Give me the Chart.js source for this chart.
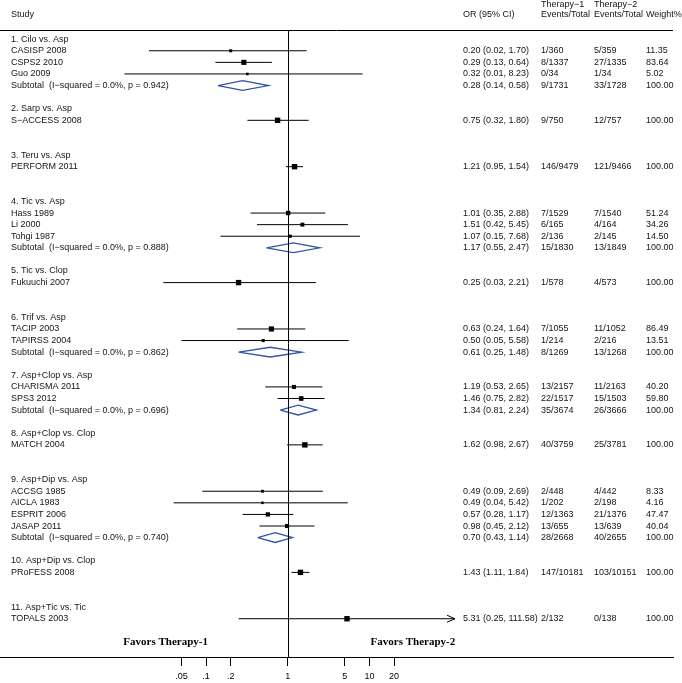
<!DOCTYPE html>
<html>
<head>
<meta charset="utf-8">
<script src="https://cdn.jsdelivr.net/npm/chart.js@4"></script>
<style>
  body { margin: 0; background: #fff; }
  #wrap { width: 682px; height: 683px; }
</style>
</head>
<body>
<div id="wrap"><canvas id="forest"></canvas></div>
<script>
// Groupes de comparaison
const groupes = [
    "1. Cilo vs. Asp", "2. Sarp vs. Asp", "3. Teru vs. Asp", "4. Tic vs. Asp",
    "5. Tic vs. Clop", "6. Trif vs. Asp", "7. Asp+Clop vs. Asp", "8. Asp+Clop vs. Clop",
    "9. Asp+Dip vs. Asp", "10. Asp+Dip vs. Clop", "11. Asp+Tic vs. Tic"
];

// Études
const etudes = [
    "CASISP 2008", "CSPS2 2010", "Guo 2009", "S\u2212ACCESS 2008", "PERFORM 2011",
    "Hass 1989", "Li 2000", "Tohgi 1987", "Fukuuchi 2007", "TACIP 2003", "TAPIRSS 2004",
    "CHARISMA 2011", "SPS3 2012", "MATCH 2004", "ACCSG 1985", "AICLA 1983",
    "ESPRIT 2006", "JASAP 2011", "PRoFESS 2008", "TOPALS 2003"
];
const groupeEtude = [0, 0, 0, 1, 2, 3, 3, 3, 4, 5, 5, 6, 6, 7, 8, 8, 8, 8, 9, 10];
const orEtude = [0.20, 0.29, 0.32, 0.75, 1.21, 1.01, 1.51, 1.07, 0.25, 0.63, 0.50, 1.19, 1.46, 1.62, 0.49, 0.49, 0.57, 0.98, 1.43, 5.31];
const basEtude = [0.02, 0.13, 0.01, 0.32, 0.95, 0.35, 0.42, 0.15, 0.03, 0.24, 0.05, 0.53, 0.75, 0.98, 0.09, 0.04, 0.28, 0.45, 1.11, 0.25];
const hautEtude = [1.70, 0.64, 8.23, 1.80, 1.54, 2.88, 5.45, 7.68, 2.21, 1.64, 5.58, 2.65, 2.82, 2.67, 2.69, 5.42, 1.17, 2.12, 1.84, 111.58];
const evenements1 = ["1/360", "8/1337", "0/34", "9/750", "146/9479", "7/1529", "6/165", "2/136", "1/578", "7/1055", "1/214",
    "13/2157", "22/1517", "40/3759", "2/448", "1/202", "12/1363", "13/655", "147/10181", "2/132"];
const evenements2 = ["5/359", "27/1335", "1/34", "12/757", "121/9466", "7/1540", "4/164", "2/145", "4/573", "11/1052", "2/216",
    "11/2163", "15/1503", "25/3781", "4/442", "2/198", "21/1376", "13/639", "103/10151", "0/138"];
const poids = [11.35, 83.64, 5.02, 100, 100, 51.24, 34.26, 14.50, 100, 86.49, 13.51, 40.20, 59.80, 100, 8.33, 4.16, 47.47, 40.04, 100, 100];

// Sous-totaux (groupes avec plusieurs études)
const groupeSousTotal = [0, 3, 5, 6, 8];
const pSousTotal = ["0.942", "0.888", "0.862", "0.696", "0.740"];
const orSousTotal = [0.28, 1.17, 0.61, 1.34, 0.70];
const basSousTotal = [0.14, 0.55, 0.25, 0.81, 0.43];
const hautSousTotal = [0.58, 2.47, 1.48, 2.24, 1.14];
const ev1SousTotal = ["9/1731", "15/1830", "8/1269", "35/3674", "28/2668"];
const ev2SousTotal = ["33/1728", "13/1849", "13/1268", "26/3666", "40/2655"];

// Axe x
const ticksX = [0.05, 0.1, 0.2, 1, 5, 10, 20];
const labelsX = [".05", ".1", ".2", "1", "5", "10", "20"];

// Construire les lignes (une ligne = une unité sur l'axe y)
const lignesTexte = [];
const rangEtude = [];
const rangSousTotal = [];
let rang = 0;
groupes.forEach((g, gi) => {
    lignesTexte.push({ rang: rang, label: g });
    let dernier = rang;
    etudes.forEach((e, i) => {
        if (groupeEtude[i] !== gi) return;
        dernier += 1;
        rangEtude[i] = dernier;
        lignesTexte.push({ rang: dernier, label: e, or: fmtIC(orEtude[i], basEtude[i], hautEtude[i]),
            ev1: evenements1[i], ev2: evenements2[i], poids: poids[i].toFixed(2) });
    });
    const s = groupeSousTotal.indexOf(gi);
    if (s >= 0) {
        rangSousTotal[s] = dernier + 1;
        lignesTexte.push({ rang: dernier + 1, label: `Subtotal  (I\u2212squared = 0.0%, p = ${pSousTotal[s]})`,
            or: fmtIC(orSousTotal[s], basSousTotal[s], hautSousTotal[s]),
            ev1: ev1SousTotal[s], ev2: ev2SousTotal[s], poids: "100.00" });
    }
    rang = dernier + 3;
});

function fmtIC(o, b, h) {
    return `${o.toFixed(2)} (${b.toFixed(2)}, ${h.toFixed(2)})`;
}

// Intervalles de confiance (segments séparés par des trous)
const donneesIC = [];
etudes.forEach((e, i) => {
    donneesIC.push({ x: basEtude[i], y: rangEtude[i] });
    donneesIC.push({ x: hautEtude[i], y: rangEtude[i] });
    donneesIC.push({ x: orEtude[i], y: null });
});

const donneesCarres = etudes.map((e, i) => ({ x: orEtude[i], y: rangEtude[i] }));
const tailleCarres = poids.map(w => (1.8 + 3.6 * Math.sqrt(w / 100)) / Math.SQRT2);

const demiLosange = 0.42;
const donneesLosanges = [];
groupeSousTotal.forEach((g, s) => {
    const r = rangSousTotal[s];
    donneesLosanges.push({ x: basSousTotal[s], y: r });
    donneesLosanges.push({ x: orSousTotal[s], y: r - demiLosange });
    donneesLosanges.push({ x: hautSousTotal[s], y: r });
    donneesLosanges.push({ x: orSousTotal[s], y: r + demiLosange });
    donneesLosanges.push({ x: basSousTotal[s], y: r });
    donneesLosanges.push({ x: orSousTotal[s], y: null });
});

const police = '"Liberation Sans", Arial, Helvetica, sans-serif';
// colonnes de texte (px)
const colEtude = 11, colOR = 463, colEv1 = 541, colEv2 = 594, colPoids = 646;

const textePlugin = {
    id: "texteForest",
    afterDraw(chart) {
        const ctx = chart.ctx;
        const xs = chart.scales.x;
        const ys = chart.scales.y;
        const zone = chart.chartArea;
        ctx.save();

        // ligne verticale OR = 1
        const x1 = xs.getPixelForValue(1);
        const yEntete = ys.getPixelForValue(-0.78);
        ctx.strokeStyle = "#000";
        ctx.lineWidth = 1;
        ctx.beginPath();
        ctx.moveTo(Math.round(x1) + 0.5, yEntete);
        ctx.lineTo(Math.round(x1) + 0.5, zone.bottom);
        ctx.stroke();

        // ligne sous l'en-tête
        ctx.beginPath();
        ctx.moveTo(zone.left, Math.round(yEntete) + 0.5);
        ctx.lineTo(zone.right, Math.round(yEntete) + 0.5);
        ctx.stroke();

        // flèche pour les IC qui dépassent
        etudes.forEach((e, i) => {
            if (hautEtude[i] <= ticksX[ticksX.length - 1]) return;
            const px = xs.getPixelForValue(hautEtude[i]);
            const py = ys.getPixelForValue(rangEtude[i]);
            ctx.beginPath();
            ctx.moveTo(px - 8, py - 3.5);
            ctx.lineTo(px, py);
            ctx.lineTo(px - 8, py + 3.5);
            ctx.stroke();
        });

        ctx.fillStyle = "#141414";
        ctx.font = `9px ${police}`;
        ctx.textBaseline = "middle";
        ctx.textAlign = "left";

        // en-têtes
        const yH1 = ys.getPixelForValue(-3);
        const yH2 = ys.getPixelForValue(-2.1);
        ctx.fillText("Study", colEtude, yH2);
        ctx.fillText("OR (95% CI)", colOR, yH2);
        ctx.fillText("Therapy\u22121", colEv1, yH1);
        ctx.fillText("Events/Total", colEv1, yH2);
        ctx.fillText("Therapy\u22122", colEv2, yH1);
        ctx.fillText("Events/Total", colEv2, yH2);
        ctx.fillText("Weight%", colPoids, yH2);

        lignesTexte.forEach(l => {
            const y = ys.getPixelForValue(l.rang);
            ctx.fillText(l.label, colEtude, y);
            if (l.or) {
                ctx.fillText(l.or, colOR, y);
                ctx.fillText(l.ev1, colEv1, y);
                ctx.fillText(l.ev2, colEv2, y);
                ctx.fillText(l.poids, colPoids, y);
            }
        });

        // Favors ...
        ctx.font = `bold 11px "Liberation Serif", "Times New Roman", serif`;
        ctx.fillStyle = "#000";
        ctx.textAlign = "center";
        const yF = ys.getPixelForValue(52);
        ctx.fillText("Favors Therapy-1", xs.getPixelForValue(0.032), yF);
        ctx.fillText("Favors Therapy-2", xs.getPixelForValue(34), yF);
        ctx.restore();
    }
};

new Chart(document.getElementById("forest"), {
    type: "scatter",
    data: {
        datasets: [
            {
                label: "IC 95%",
                data: donneesIC,
                showLine: true,
                spanGaps: false,
                borderColor: "#000",
                borderWidth: 1,
                pointRadius: 0
            },
            {
                label: "OR",
                data: donneesCarres,
                pointStyle: "rect",
                pointRadius: tailleCarres,
                backgroundColor: "#000",
                borderWidth: 0
            },
            {
                label: "Sous-total",
                data: donneesLosanges,
                showLine: true,
                spanGaps: false,
                borderColor: "#2f55a8",
                borderWidth: 1.3,
                pointRadius: 0
            }
        ]
    },
    options: {
        responsive: true,
        maintainAspectRatio: false,
        animation: false,
        layout: { autoPadding: false, padding: { left: 0, right: 9, top: 0, bottom: 0 } },
        plugins: {
            legend: { display: false },
            tooltip: { enabled: false }
        },
        scales: {
            x: {
                type: "logarithmic",
                position: "bottom",
                min: 3.36e-4,
                max: 5.2e4,
                afterBuildTicks: s => { s.ticks = ticksX.map(v => ({ value: v })); },
                afterFit: s => { s.height = 26; },
                ticks: {
                    autoSkip: false,
                    maxRotation: 0,
                    padding: 5,
                    color: "#000",
                    font: { size: 9, family: police },
                    callback: (v, i) => labelsX[i]
                },
                grid: { drawOnChartArea: false, drawTicks: true, tickLength: 9, color: "#000" },
                border: { display: true, color: "#000", width: 1 }
            },
            y: {
                type: "linear",
                display: false,
                reverse: true,
                min: -3.38,
                max: 53.3
            }
        }
    },
    plugins: [textePlugin]
});
</script>
</body>
</html>
